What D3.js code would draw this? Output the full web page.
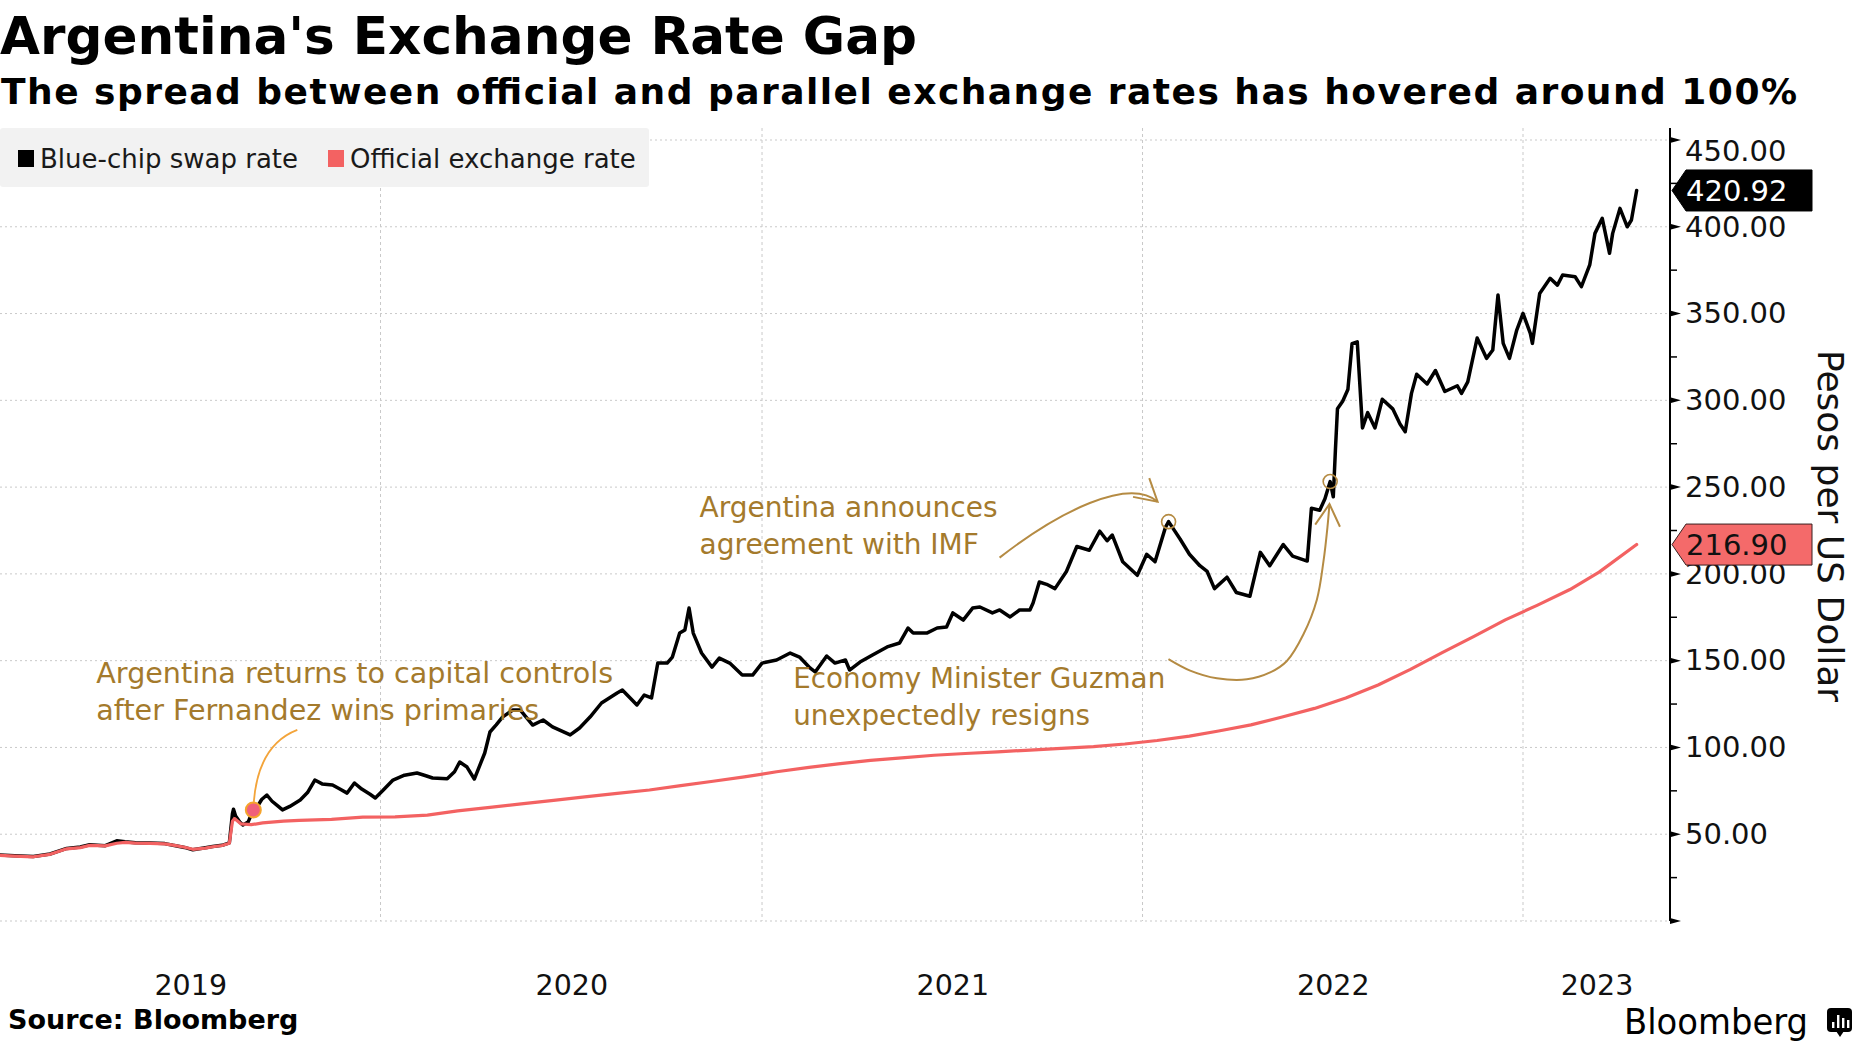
<!DOCTYPE html>
<html>
<head>
<meta charset="utf-8">
<script src="https://cdn.jsdelivr.net/npm/d3@7"></script>
<style>
  html, body { margin: 0; padding: 0; background: #fff; }
  svg { display: block; }
  text { font-family: "DejaVu Sans", sans-serif; }
</style>
</head>
<body>
<svg id="chart" width="1860" height="1046"></svg>
<script>
// ---------------- DATA ----------------
const chartTitle = "Argentina's Exchange Rate Gap";
const chartSubtitle = "The spread between official and parallel exchange rates has hovered around 100%";
const sourceText = "Source: Bloomberg";
const yAxisTitle = "Pesos per US Dollar";
const seriesNames = ["Blue-chip swap rate", "Official exchange rate"];
const seriesColors = ["#000000", "#f36262"];

const swapRate = [
["2019-01-01",38.0],["2019-01-15",37.6],["2019-02-02",37.2],["2019-02-18",38.6],["2019-03-06",41.8],
["2019-03-19",42.6],["2019-03-28",43.9],["2019-04-12",43.4],["2019-04-23",46.2],["2019-05-01",45.6],
["2019-05-11",45.1],["2019-05-25",45.0],["2019-06-08",44.6],["2019-06-16",43.6],["2019-06-27",42.4],
["2019-07-05",41.0],["2019-07-17",42.2],["2019-07-24",42.9],["2019-08-02",43.6],["2019-08-09",45.0],
["2019-08-12",62.0],["2019-08-13",64.4],["2019-08-15",60.5],["2019-08-19",57.0],["2019-08-22",55.3],
["2019-08-27",57.0],["2019-09-01",64.0],["2019-09-05",66.0],["2019-09-09",70.0],["2019-09-14",72.6],
["2019-09-19",69.0],["2019-09-25",66.0],["2019-09-29",64.0],["2019-10-06",66.0],["2019-10-16",69.7],
["2019-10-23",74.0],["2019-10-30",81.2],["2019-11-06",79.0],["2019-11-16",78.4],["2019-11-23",76.0],
["2019-11-30",73.7],["2019-12-07",79.5],["2019-12-14",76.0],["2019-12-22",73.0],["2019-12-27",70.9],
["2020-01-03",75.0],["2020-01-13",81.2],["2020-01-24",84.0],["2020-02-05",85.3],["2020-02-12",84.0],
["2020-02-20",82.4],["2020-03-05",82.0],["2020-03-12",86.0],["2020-03-17",91.6],["2020-03-24",88.7],
["2020-03-31",81.8],["2020-04-10",96.8],["2020-04-15",108.9],["2020-04-21",113.0],["2020-04-27",117.5],
["2020-05-07",121.6],["2020-05-14",121.6],["2020-05-26",112.9],["2020-06-05",115.8],["2020-06-14",111.8],
["2020-07-01",107.2],["2020-07-10",111.2],["2020-07-20",117.5],["2020-07-31",125.6],["2020-08-15",131.4],
["2020-08-20",133.1],["2020-09-03",124.5],["2020-09-10",130.2],["2020-09-17",128.5],["2020-09-23",148.6],
["2020-10-02",148.6],["2020-10-07",152.1],["2020-10-14",165.9],["2020-10-19",167.7],["2020-10-23",180.3],
["2020-10-27",165.9],["2020-11-04",154.4],["2020-11-14",146.3],["2020-11-21",151.5],["2020-12-01",148.6],
["2020-12-13",141.7],["2020-12-23",141.7],["2021-01-01",148.6],["2021-01-15",150.4],["2021-01-28",154.4],
["2021-02-06",152.1],["2021-02-16",145.8],["2021-02-21",143.5],["2021-03-04",152.7],["2021-03-12",148.6],
["2021-03-22",150.4],["2021-03-26",144.6],["2021-04-05",149.2],["2021-04-17",153.3],["2021-05-01",157.9],
["2021-05-13",160.2],["2021-05-21",168.8],["2021-05-26",165.9],["2021-06-08",165.9],["2021-06-18",168.8],
["2021-06-27",169.4],["2021-07-03",177.5],["2021-07-13",173.4],["2021-07-22",180.3],["2021-07-29",180.9],
["2021-08-10",177.5],["2021-08-17",179.2],["2021-08-27",175.2],["2021-09-05",179.2],["2021-09-15",179.2],
["2021-09-18",183.2],["2021-09-24",195.3],["2021-10-01",194.0],["2021-10-09",191.5],["2021-10-20",201.4],
["2021-10-30",215.8],["2021-11-11",213.6],["2021-11-21",224.6],["2021-11-28",219.1],["2021-12-03",222.4],
["2021-12-13",207.0],["2021-12-27",199.2],["2022-01-05",211.3],["2022-01-13",207.0],["2022-01-23",226.8],
["2022-01-26",230.1],["2022-02-06",220.1],["2022-02-15",211.3],["2022-02-25",204.7],["2022-03-04",201.4],
["2022-03-11",191.5],["2022-03-23",198.1],["2022-04-01",189.3],["2022-04-14",187.1],["2022-04-24",212.4],
["2022-05-03",204.7],["2022-05-16",216.9],["2022-05-25",210.2],["2022-06-08",207.4],["2022-06-12",237.8],
["2022-06-20",236.7],["2022-06-25",243.3],["2022-06-30",253.2],["2022-07-03",244.4],["2022-07-05",270.9],
["2022-07-07",295.1],["2022-07-12",299.5],["2022-07-17",306.2],["2022-07-21",332.6],["2022-07-26",333.7],
["2022-07-31",284.1],["2022-08-05",292.9],["2022-08-12",284.1],["2022-08-19",300.6],["2022-08-29",295.1],
["2022-09-05",286.3],["2022-09-10",281.9],["2022-09-16",304.0],["2022-09-21",315.0],["2022-10-01",309.4],
["2022-10-09",317.2],["2022-10-18",305.1],["2022-10-30",308.4],["2022-11-03",304.0],["2022-11-09",310.6],
["2022-11-18",335.9],["2022-11-27",324.2],["2022-12-03",329.0],["2022-12-08",360.7],["2022-12-13",332.8],
["2022-12-19",324.2],["2022-12-26",340.5],["2023-01-01",350.1],["2023-01-08",338.6],["2023-01-10",332.8],
["2023-01-17",361.6],["2023-01-27",370.3],["2023-02-03",366.4],["2023-02-08",372.2],["2023-02-20",371.2],
["2023-02-26",365.5],["2023-03-06",378.0],["2023-03-11",396.2],["2023-03-18",404.9],["2023-03-25",384.7],
["2023-03-28",396.2],["2023-04-04",410.6],["2023-04-11",400.0],["2023-04-15",403.9],["2023-04-20",420.92]
];

const officialRate = [
["2019-01-01",37.8],["2019-01-15",37.4],["2019-02-02",37.0],["2019-02-18",38.4],["2019-03-06",41.6],
["2019-03-19",42.3],["2019-03-28",43.6],["2019-04-12",43.3],["2019-04-23",44.8],["2019-05-01",45.3],
["2019-05-11",44.9],["2019-05-25",44.7],["2019-06-08",44.4],["2019-06-16",43.7],["2019-06-27",42.5],
["2019-07-05",41.3],["2019-07-17",42.0],["2019-07-24",42.8],["2019-08-02",43.5],["2019-08-09",44.8],
["2019-08-12",57.5],["2019-08-14",59.0],["2019-08-20",56.0],["2019-08-30",55.5],["2019-09-10",56.5],
["2019-09-30",57.5],["2019-10-15",58.0],["2019-11-15",58.5],["2019-12-15",59.8],["2020-01-15",60.0],
["2020-02-15",61.0],["2020-03-15",63.5],["2020-04-15",65.5],["2020-05-15",67.5],["2020-06-15",69.5],
["2020-07-15",71.5],["2020-08-15",73.5],["2020-09-15",75.5],["2020-10-15",78.0],["2020-11-15",80.5],
["2020-12-15",83.0],["2021-01-15",86.0],["2021-02-15",88.5],["2021-03-15",90.5],["2021-04-15",92.5],
["2021-05-15",94.0],["2021-06-15",95.5],["2021-07-15",96.5],["2021-08-15",97.5],["2021-09-15",98.5],
["2021-10-15",99.5],["2021-11-15",100.5],["2021-12-15",102.0],["2022-01-15",104.0],["2022-02-15",106.5],
["2022-03-15",109.5],["2022-04-15",113.0],["2022-05-15",117.5],["2022-06-15",122.5],["2022-07-15",128.5],
["2022-08-15",136.0],["2022-09-15",145.0],["2022-10-15",154.5],["2022-11-15",164.0],["2022-12-15",173.5],
["2023-01-15",182.0],["2023-02-15",191.0],["2023-03-15",201.0],["2023-04-20",216.9]
];

const yTickValues = [0, 50, 100, 150, 200, 250, 300, 350, 400, 450];
const yMinorTickValues = [25, 75, 125, 175, 225, 275, 325, 375, 425];
const yearLabels = [2019, 2020, 2021, 2022, 2023];
const xDomain = ["2019-01-01", "2023-05-22"];

const annotations = [
  { date: "2019-09-01", value: 64.0, kind: "dot",
    lines: ["Argentina returns to capital controls", "after Fernandez wins primaries"] },
  { date: "2022-01-26", value: 230.1, kind: "circle",
    lines: ["Argentina announces", "agreement with IMF"] },
  { date: "2022-06-30", value: 253.2, kind: "circle",
    lines: ["Economy Minister Guzman", "unexpectedly resigns"] }
];

// ---------------- CHART ----------------
const parse = d3.utcParse("%Y-%m-%d");
const swap = swapRate.map(d => ({ date: parse(d[0]), value: d[1] }));
const official = officialRate.map(d => ({ date: parse(d[0]), value: d[1] }));

const plotLeft = 0, plotRight = 1670, plotTop = 140, plotBottom = 921;
const svg = d3.select("#chart");

const x = d3.scaleUtc().domain(xDomain.map(parse)).range([plotLeft, plotRight]);
const y = d3.scaleLinear().domain([0, 450]).range([plotBottom, plotTop]);

const annColor = "#a47a2c";
const arrowColor = "#b58b43";
const gridColor = "#c9c9c9";

// Titles
svg.append("text").attr("x", 0).attr("y", 54)
  .attr("font-size", 51.5).attr("font-weight", "bold").attr("fill", "#000")
  .attr("textLength", 917).attr("lengthAdjust", "spacingAndGlyphs")
  .text(chartTitle);
svg.append("text").attr("x", 1).attr("y", 104)
  .attr("font-size", 36).attr("font-weight", "bold").attr("fill", "#000")
  .attr("textLength", 1796).attr("lengthAdjust", "spacing")
  .text(chartSubtitle);

// Grid
const grid = svg.append("g");
grid.selectAll("line.h").data(yTickValues).join("line")
  .attr("x1", plotLeft).attr("x2", plotRight)
  .attr("y1", d => y(d)).attr("y2", d => y(d))
  .attr("stroke", gridColor).attr("stroke-width", 1).attr("stroke-dasharray", "2,3");
const yearStarts = yearLabels.slice(1).map(yr => new Date(Date.UTC(yr, 0, 1)));
grid.selectAll("line.v").data(yearStarts).join("line")
  .attr("x1", d => x(d)).attr("x2", d => x(d))
  .attr("y1", 128).attr("y2", plotBottom)
  .attr("stroke", gridColor).attr("stroke-width", 1).attr("stroke-dasharray", "3,3");

// Legend
const legend = svg.append("g");
legend.append("rect").attr("x", 0).attr("y", 128).attr("width", 649).attr("height", 59)
  .attr("rx", 3).attr("fill", "#f2f2f2");
const legendX = [18, 328];
seriesNames.forEach((name, i) => {
  legend.append("rect").attr("x", legendX[i]).attr("y", 150).attr("width", 16).attr("height", 17)
    .attr("fill", seriesColors[i]);
  legend.append("text").attr("x", legendX[i] + 22).attr("y", 168)
    .attr("font-size", 26).attr("fill", "#1a1a1a").text(name);
});

// Lines
const line = d3.line().x(d => x(d.date)).y(d => y(d.value)).curve(d3.curveLinear);
svg.append("path").datum(swap).attr("d", line)
  .attr("fill", "none").attr("stroke", seriesColors[0]).attr("stroke-width", 3.5)
  .attr("stroke-linejoin", "round").attr("stroke-linecap", "round");
svg.append("path").datum(official).attr("d", line)
  .attr("fill", "none").attr("stroke", seriesColors[1]).attr("stroke-width", 3.2)
  .attr("stroke-linejoin", "round").attr("stroke-linecap", "round");

// Y axis
const yAxis = d3.axisRight(y).tickValues(yTickValues)
  .tickFormat(d => d === 0 ? "" : d3.format(".2f")(d))
  .tickSize(0).tickPadding(15);
const yAxisG = svg.append("g").attr("transform", `translate(${plotRight},0)`).call(yAxis);
yAxisG.select(".domain").remove();
yAxisG.selectAll("text").attr("font-family", "DejaVu Sans").attr("font-size", 29).attr("fill", "#111");
yAxisG.selectAll(".tick").filter(d => d === 450).select("text").attr("dy", "0.72em");
svg.append("line").attr("x1", plotRight).attr("x2", plotRight).attr("y1", 128).attr("y2", plotBottom)
  .attr("stroke", "#000").attr("stroke-width", 2);
svg.selectAll("path.majtick").data(yTickValues).join("path")
  .attr("d", d => `M${plotRight},${y(d) - 3}L${plotRight + 11},${y(d)}L${plotRight},${y(d) + 3}Z`)
  .attr("fill", "#000");
svg.selectAll("line.mintick").data(yMinorTickValues).join("line")
  .attr("x1", plotRight).attr("x2", plotRight + 7)
  .attr("y1", d => y(d)).attr("y2", d => y(d))
  .attr("stroke", "#000").attr("stroke-width", 1.5);

// Axis title
svg.append("text").attr("transform", `translate(1818,526) rotate(90)`)
  .attr("text-anchor", "middle").attr("font-size", 36).attr("fill", "#111")
  .text(yAxisTitle);

// X axis (year labels centred in each visible year)
const [d0, d1] = x.domain();
const yearMids = yearLabels.map(yr => {
  const s = new Date(Math.max(Date.UTC(yr, 0, 1), d0));
  const e = new Date(Math.min(Date.UTC(yr + 1, 0, 1), d1));
  return new Date((+s + +e) / 2);
});
const xAxis = d3.axisBottom(x).tickValues(yearMids)
  .tickFormat((d, i) => String(yearLabels[i])).tickSize(0).tickPadding(54);
const xAxisG = svg.append("g").attr("transform", `translate(0,${plotBottom})`).call(xAxis);
xAxisG.select(".domain").remove();
xAxisG.selectAll("text").attr("font-family", "DejaVu Sans").attr("font-size", 28.5).attr("fill", "#111");

// Last value labels
function valueTag(series, fill, textFill, stroke) {
  const last = series[series.length - 1];
  const yy = y(last.value);
  const g = svg.append("g");
  g.append("path")
    .attr("d", `M${plotRight + 2},${yy}L${plotRight + 16},${yy - 20.5}L1812,${yy - 20.5}L1812,${yy + 20.5}L${plotRight + 16},${yy + 20.5}Z`)
    .attr("fill", fill).attr("stroke", stroke).attr("stroke-width", 1);
  g.append("text").attr("x", 1686).attr("y", yy).attr("dy", "0.36em")
    .attr("font-size", 29).attr("fill", textFill).text(last.value.toFixed(2));
}
valueTag(official, "#f46a6a", "#111", "#3a2020");
valueTag(swap, "#000", "#fff", "#000");

// Annotations
const annG = svg.append("g");
function anchor(a) { return [x(parse(a.date)), y(a.value)]; }
function arrowHead(tip, from, len, ang) {
  const dx = from[0] - tip[0], dy = from[1] - tip[1];
  const base = Math.atan2(dy, dx);
  const p1 = [tip[0] + len * Math.cos(base + ang), tip[1] + len * Math.sin(base + ang)];
  const p2 = [tip[0] + len * Math.cos(base - ang), tip[1] + len * Math.sin(base - ang)];
  return `M${p1[0]},${p1[1]}L${tip[0]},${tip[1]}L${p2[0]},${p2[1]}`;
}
function annText(a, tx, ty, fs) {
  a.lines.forEach((ln, i) => {
    annG.append("text").attr("x", tx).attr("y", ty + i * 37)
      .attr("font-size", fs).attr("fill", annColor).text(ln);
  });
}

// A1: capital controls
{
  const a = annotations[0];
  const [ax, ay] = anchor(a);
  const p = d3.path();
  p.moveTo(ax + 44, ay - 80);
  p.quadraticCurveTo(ax + 5, ay - 65, ax + 0.5, ay - 8);
  annG.append("path").attr("d", p.toString()).attr("fill", "none")
    .attr("stroke", "#f3a43a").attr("stroke-width", 1.8);
  annG.append("circle").attr("cx", ax).attr("cy", ay).attr("r", 7.5)
    .attr("fill", "#f0607a").attr("stroke", "#f5a42c").attr("stroke-width", 2);
  annText(a, ax - 157, ay - 127, 28.6);
}
// A2: IMF
{
  const a = annotations[1];
  const [ax, ay] = anchor(a);
  const s = [ax - 169, ay + 36], c1 = [ax - 110, ay - 10], c2 = [ax - 40, ay - 45], e = [ax - 11, ay - 20];
  const p = d3.path();
  p.moveTo(...s); p.bezierCurveTo(...c1, ...c2, ...e);
  annG.append("path").attr("d", p.toString()).attr("fill", "none")
    .attr("stroke", arrowColor).attr("stroke-width", 2);
  annG.append("path").attr("d", arrowHead(e, c2, 25, 0.52)).attr("fill", "none")
    .attr("stroke", arrowColor).attr("stroke-width", 2);
  annG.append("circle").attr("cx", ax).attr("cy", ay).attr("r", 7)
    .attr("fill", "none").attr("stroke", arrowColor).attr("stroke-width", 1.6);
  annText(a, ax - 469, ay - 5, 28);
}
// A3: Guzman
{
  const a = annotations[2];
  const [ax, ay] = anchor(a);
  const rel = [[-161.7,177.5],[-140,189],[-113.3,196.7],[-83.3,197.8],[-60,190.9],[-43.3,179.4],
               [-26.7,152.7],[-13.3,118.1],[-6.7,79.9],[-2.7,45.5],[-0.7,22.5]];
  const pts = rel.map(r => [ax + r[0], ay + r[1]]);
  annG.append("path").attr("d", d3.line().curve(d3.curveCatmullRom)(pts)).attr("fill", "none")
    .attr("stroke", arrowColor).attr("stroke-width", 2);
  annG.append("path").attr("d", arrowHead(pts[pts.length - 1], pts[pts.length - 2], 25, 0.52))
    .attr("fill", "none").attr("stroke", arrowColor).attr("stroke-width", 2);
  annG.append("circle").attr("cx", ax).attr("cy", ay).attr("r", 7)
    .attr("fill", "none").attr("stroke", arrowColor).attr("stroke-width", 1.6);
  annText(a, ax - 537, ay + 206, 27.8);
}

// Footer
svg.append("text").attr("x", 8).attr("y", 1029)
  .attr("font-size", 27).attr("font-weight", "bold").attr("fill", "#000").text(sourceText);
svg.append("text").attr("x", 1624).attr("y", 1034)
  .attr("font-family", "Roboto, 'Open Sans', sans-serif").attr("font-weight", 500)
  .attr("font-size", 35).attr("fill", "#000")
  .attr("textLength", 184).attr("lengthAdjust", "spacingAndGlyphs").text("Bloomberg");
const logo = svg.append("g");
logo.append("rect").attr("x", 1827).attr("y", 1008).attr("width", 25).attr("height", 24).attr("rx", 4).attr("fill", "#000");
logo.append("path").attr("d", "M1836,1031L1840,1037L1844,1031Z").attr("fill", "#000");
[[1832, 1022, 6], [1837, 1015, 13], [1842, 1018, 10], [1847, 1020, 8]].forEach(b => {
  logo.append("rect").attr("x", b[0]).attr("y", b[1]).attr("width", 2.4).attr("height", b[2]).attr("fill", "#fff");
});
</script>
</body>
</html>
